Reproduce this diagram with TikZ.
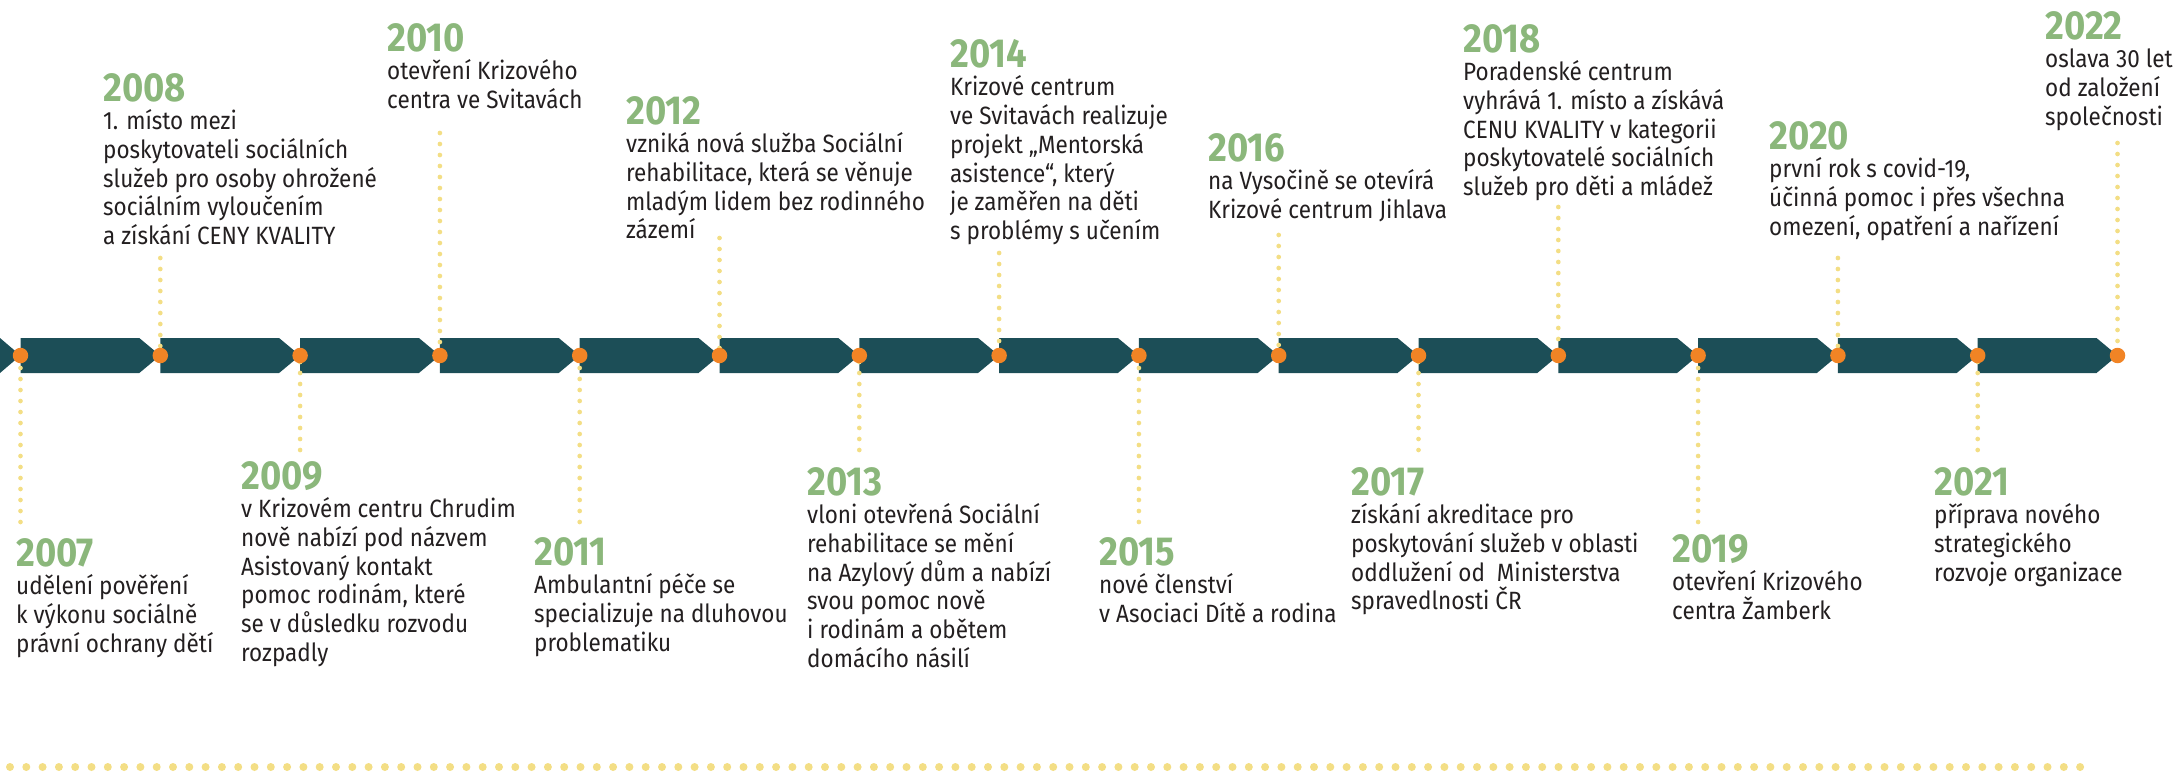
\documentclass[tikz,border=0pt]{standalone}
\usepackage{fontspec}
\setmainfont{Fira Sans}[FakeStretch=0.9]
\newfontfamily\yearface{Fira Sans}[FakeStretch=0.9]
\usetikzlibrary{positioning}
\definecolor{band}{HTML}{1C4E57}
\definecolor{dotorange}{HTML}{F18425}
\definecolor{linkyellow}{HTML}{F3DE85}
\definecolor{yeargreen}{HTML}{8BB77B}
\definecolor{ink}{HTML}{231F20}
\pgfdeclarelayer{bg}
\pgfsetlayers{bg,main}
\newcommand{\evyear}[1]{{\yearface\bfseries\fontsize{40.5}{40.5}\selectfont\color{yeargreen}#1}}

\begin{document}
\begin{tikzpicture}[x=1pt,y=-1pt,
    event/.style={anchor=north west, inner sep=0pt, align=left, text=ink, font=\fontsize{25}{28.7}\selectfont},
    milestone/.style={circle, fill=dotorange, minimum size=15.5pt, inner sep=0pt},
    link/.style={draw=linkyellow, line width=4.7pt, line cap=round, dash pattern=on 0pt off 11pt},
    rowdots/.style={draw=linkyellow, line width=8pt, line cap=round, dash pattern=on 0pt off 16.3pt}]
    \useasboundingbox (0,0) rectangle (2176,771);

    \foreach \k in {0,...,15} {
        \pgfmathsetmacro{\px}{20.5+139.8*\k}
        \pgfmathtruncatemacro{\yy}{2007+\k}
        \node[milestone] (d\yy) at (\px,355.5) {};
    }

    \node[event] (t2007) at (16,538) {\evyear{2007}\\udělení pověření\\k výkonu sociálně\\právní ochrany dětí};
    \node[event] (t2008) at (103,73) {\evyear{2008}\\1. místo mezi\\poskytovateli sociálních\\služeb pro osoby ohrožené\\sociálním vyloučením\\a získání CENY KVALITY};
    \node[event] (t2009) at (241,461) {\evyear{2009}\\v Krizovém centru Chrudim\\nově nabízí pod názvem\\Asistovaný kontakt\\pomoc rodinám, které\\se v důsledku rozvodu\\rozpadly};
    \node[event] (t2010) at (387,23) {\evyear{2010}\\otevření Krizového\\centra ve Svitavách};
    \node[event] (t2011) at (534,537) {\evyear{2011}\\Ambulantní péče se\\specializuje na dluhovou\\problematiku};
    \node[event] (t2012) at (626,96) {\evyear{2012}\\vzniká nová služba Sociální\\rehabilitace, která se věnuje\\mladým lidem bez rodinného\\zázemí};
    \node[event] (t2013) at (807,467) {\evyear{2013}\\vloni otevřená Sociální\\rehabilitace se mění\\na Azylový dům a nabízí\\svou pomoc nově\\i rodinám a obětem\\domácího násilí};
    \node[event] (t2014) at (950,39) {\evyear{2014}\\Krizové centrum\\ve Svitavách realizuje\\projekt „Mentorská\\asistence“, který\\je zaměřen na děti\\s problémy s učením};
    \node[event] (t2015) at (1099,537) {\evyear{2015}\\nové členství\\v Asociaci Dítě a rodina};
    \node[event] (t2016) at (1208,133) {\evyear{2016}\\na Vysočině se otevírá\\Krizové centrum Jihlava};
    \node[event] (t2017) at (1351,467) {\evyear{2017}\\získání akreditace pro\\poskytování služeb v oblasti\\oddlužení od~ Ministerstva\\spravedlnosti ČR};
    \node[event] (t2018) at (1463,24) {\evyear{2018}\\Poradenské centrum\\vyhrává 1. místo a získává\\CENU KVALITY v kategorii\\poskytovatelé sociálních\\služeb pro děti a mládež};
    \node[event] (t2019) at (1672,534) {\evyear{2019}\\otevření Krizového\\centra Žamberk};
    \node[event] (t2020) at (1769,121) {\evyear{2020}\\první rok s covid-19,\\účinná pomoc i přes všechna\\omezení, opatření a nařízení};
    \node[event] (t2021) at (1934,467) {\evyear{2021}\\příprava nového\\strategického\\rozvoje organizace};
    \node[event] (t2022) at (2045,11) {\evyear{2022}\\oslava 30 let\\od založení\\společnosti};

    \coordinate (e2007) at (d2007 |- 0,522);
    \coordinate (e2008) at (d2008 |- 0,258);
    \coordinate (e2009) at (d2009 |- 0,450);
    \coordinate (e2010) at (d2010 |- 0,133);
    \coordinate (e2011) at (d2011 |- 0,522);
    \coordinate (e2012) at (d2012 |- 0,238);
    \coordinate (e2013) at (d2013 |- 0,450);
    \coordinate (e2014) at (d2014 |- 0,253);
    \coordinate (e2015) at (d2015 |- 0,522);
    \coordinate (e2016) at (d2016 |- 0,235);
    \coordinate (e2017) at (d2017 |- 0,450);
    \coordinate (e2018) at (d2018 |- 0,207);
    \coordinate (e2019) at (d2019 |- 0,522);
    \coordinate (e2020) at (d2020 |- 0,258);
    \coordinate (e2021) at (d2021 |- 0,450);
    \coordinate (e2022) at (d2022 |- 0,143);
    \coordinate (rowstart) at (10,767);
    \coordinate (rowend) at (2091,767);

    \begin{pgfonlayer}{bg}
        \fill[band] (0,338) -- (d2007.center) -- (0,373) -- cycle;
        \foreach \k in {0,...,14} {
            \pgfmathsetmacro{\px}{20.5+139.8*\k}
            \fill[band] (\px,338) -- ++(118.8,0) -- ({\px+139.8},355.5) -- ({\px+118.8},373) -- (\px,373) -- cycle;
        }
        \foreach \yy in {2007,...,2022}
            \draw[link] (e\yy) -- (d\yy.center);
        \draw[rowdots] (rowstart) -- (rowend);
    \end{pgfonlayer}
\end{tikzpicture}
\end{document}
